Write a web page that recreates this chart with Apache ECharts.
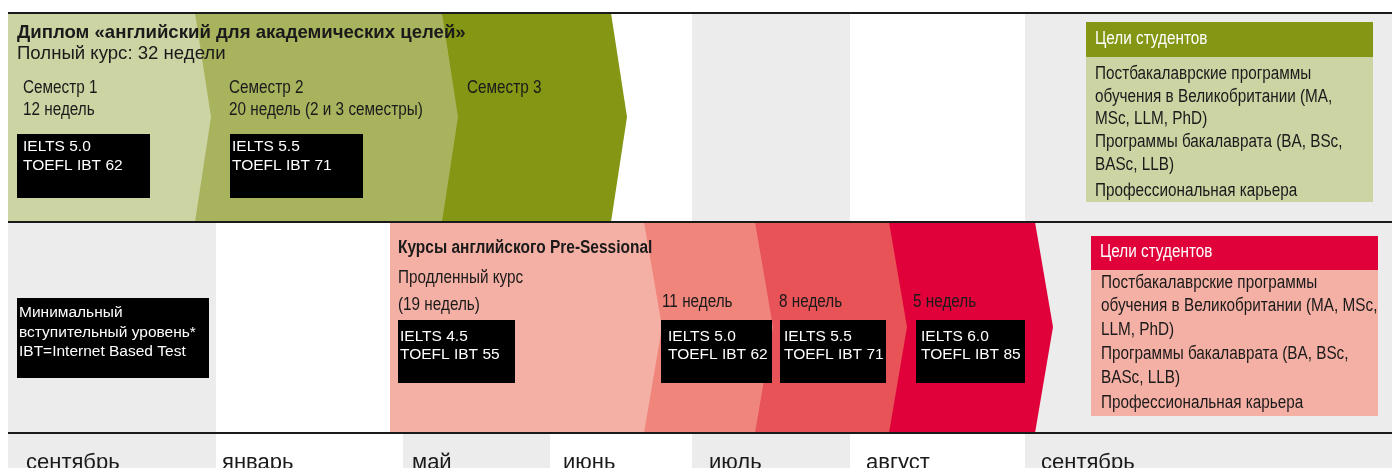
<!DOCTYPE html>
<html><head><meta charset="utf-8">
<script src="https://cdn.jsdelivr.net/npm/echarts@6/dist/echarts.min.js"></script>
<style>html,body{margin:0;padding:0;background:#fff}#c{width:1392px;height:468px}</style>
</head><body><div id="c"></div>
<script>
// ---------- DATA ----------
// timeline columns (x in timeline units)
const monthLabels = ['сентябрь','январь','май','июнь','июль','август','сентябрь'];
const monthStarts = [8, 216, 403, 550, 692, 850, 1025];
const monthEnds   = [216, 403, 550, 692, 850, 1025, 1392];
const monthShaded = [1, 0, 1, 0, 1, 0, 1];

// Diploma programme (top row)
const diplomaTitle = 'Диплом «английский для академических целей»';
const diplomaSubtitle = 'Полный курс: 32 недели';
const diplomaStart = 8;
const diplomaStageEnds = [195, 442, 611];
const diplomaStageNames = ['Семестр 1', 'Семестр 2', 'Семестр 3'];
const diplomaStageWeeks = ['12 недель', '20 недель (2 и 3 семестры)', ''];
const diplomaEntryIelts = ['IELTS 5.0', 'IELTS 5.5'];
const diplomaEntryToefl = ['TOEFL IBT 62', 'TOEFL IBT 71'];

// Pre-sessional courses (bottom row)
const preTitle = 'Курсы английского Pre-Sessional';
const preStart = 390;
const preStageEnds = [644, 755, 889, 1035];
const preStageWeeks = [['Продленный курс', '(19 недель)'], ['11 недель'], ['8 недель'], ['5 недель']];
const preEntryIelts = ['IELTS 4.5', 'IELTS 5.0', 'IELTS 5.5', 'IELTS 6.0'];
const preEntryToefl = ['TOEFL IBT 55', 'TOEFL IBT 62', 'TOEFL IBT 71', 'TOEFL IBT 85'];

const minLevelLines = ['Минимальный', 'вступительный уровень*', 'IBT=Internet Based Test'];

const goalsTitle = 'Цели студентов';
const goalsTop = ['Постбакалаврские программы', 'обучения в Великобритании (MA,', 'MSc, LLM, PhD)', 'Программы бакалаврата (BA, BSc,', 'BASc, LLB)', 'Профессиональная карьера'];
const goalsBottom = ['Постбакалаврские программы', 'обучения в Великобритании (MA, MSc,', 'LLM, PhD)', 'Программы бакалаврата (BA, BSc,', 'BASc, LLB)', 'Профессиональная карьера'];

// ---------- LAYOUT / STYLE ----------
const ROW_LINES = [13, 222, 433];
const TOP_ROW = {y0: 13, tipY: 117, y1: 222, tip: 16};
const BOT_ROW = {y0: 222, tipY: 327, y1: 433, tip: 18};
const GREY = '#ebeceb';
const diplomaColors = ['#cdd4a4', '#a9b35d', '#849614'];
const preColors = ['#f5b0a5', '#f0857b', '#e85357', '#e0003a'];
const INK = '#1a1a1a';
const FONT = '"Liberation Sans", Arial, sans-serif';

const monthLabelX = [26, 222, 412, 563, 709, 866, 1041];
const diplomaBoxX = [[17, 150, 23], [230, 363, 232]];
const preBoxX = [[398, 515, 400], [661, 772, 668], [780, 886, 784], [916, 1025, 921]];
const diplomaNameX = [23, 229, 467];
const preWeeksX = [398, 662, 779, 913];

const styles = {
  title:  {size: 18.6, weight: 'bold', sx: 1},
  sub:    {size: 18.6, weight: 'normal', sx: 1},
  narrow: {size: 18, weight: 'normal', sx: 0.85},
  narrowBold: {size: 18, weight: 'bold', sx: 0.86},
  box:    {size: 15.5, weight: 'normal', sx: 1},
  month:  {size: 22, weight: 'normal', sx: 1}
};

// rectangles: [x0, x1, y0, y1, fill]
const rects = [];
rects.push([1086, 1373, 22, 57, diplomaColors[2]]);
rects.push([1086, 1373, 57, 202, diplomaColors[0]]);
rects.push([1091, 1378, 236, 270, preColors[3]]);
rects.push([1091, 1378, 270, 416, preColors[0]]);
diplomaBoxX.forEach(b => rects.push([b[0], b[1], 134, 198, '#000']));
rects.push([17, 209, 298, 378, '#000']);
preBoxX.forEach(b => rects.push([b[0], b[1], 320, 383, '#000']));

// texts
const texts = [];
function T(t, x, y, st, fill) { texts.push({t, x, y, st, fill: fill || INK}); }
T(diplomaTitle, 17, 33, 'title');
T(diplomaSubtitle, 17, 54, 'sub');
diplomaStageNames.forEach((n, i) => {
  T(n, diplomaNameX[i], 88, 'narrow');
  if (diplomaStageWeeks[i]) T(diplomaStageWeeks[i], diplomaNameX[i], 110, 'narrow');
});
diplomaEntryIelts.forEach((s, i) => {
  T(s, diplomaBoxX[i][2], 147, 'box', '#fff');
  T(diplomaEntryToefl[i], diplomaBoxX[i][2], 166, 'box', '#fff');
});
T(goalsTitle, 1095, 39, 'narrow', '#fff');
const goalsTopY = [74, 97, 119, 142, 165, 191];
goalsTop.forEach((s, i) => T(s, 1095, goalsTopY[i], 'narrow'));

T(preTitle, 398, 248, 'narrowBold');
preStageWeeks.forEach((arr, i) => {
  if (arr.length === 2) { T(arr[0], preWeeksX[i], 278, 'narrow'); T(arr[1], preWeeksX[i], 305, 'narrow'); }
  else T(arr[0], preWeeksX[i], 302, 'narrow');
});
preEntryIelts.forEach((s, i) => {
  T(s, preBoxX[i][2], 337, 'box', '#fff');
  T(preEntryToefl[i], preBoxX[i][2], 355, 'box', '#fff');
});
const minY = [313, 333, 352];
minLevelLines.forEach((s, i) => T(s, 19, minY[i], 'box', '#fff'));
T(goalsTitle, 1100, 252, 'narrow', '#fff');
const goalsBotY = [283, 306, 330, 354, 378, 403];
goalsBottom.forEach((s, i) => T(s, 1101, goalsBotY[i], 'narrow'));
monthLabels.forEach((m, i) => T(m, monthLabelX[i], 463, 'month'));

// ---------- CHART ----------
const chart = echarts.init(document.getElementById('c'), null, {renderer: 'canvas'});

function rectEl(api, x0, x1, y0, y1, fill) {
  const a = api.coord([x0, y0]), b = api.coord([x1, y1]);
  return {type: 'rect', shape: {x: a[0], y: a[1], width: b[0] - a[0], height: b[1] - a[1]}, style: {fill}};
}
function chevron(api, start, end, row, fill) {
  const pts = [[start, row.y0], [end, row.y0], [end + row.tip, row.tipY], [end, row.y1], [start, row.y1]];
  return {type: 'polygon', shape: {points: pts.map(p => api.coord(p))}, style: {fill}};
}

const option = {
  animation: false,
  grid: {left: 0, right: 0, top: 0, bottom: 0},
  xAxis: {type: 'value', min: 0, max: 1392, show: false},
  yAxis: {type: 'value', min: 0, max: 468, inverse: true, show: false},
  series: [
    {
      type: 'custom', silent: true,
      data: monthStarts.map((s, i) => [s, monthEnds[i], monthShaded[i]]),
      renderItem: (p, api) => rectEl(api, api.value(0), api.value(1), ROW_LINES[0], 468, api.value(2) ? GREY : '#ffffff')
    },
    {
      type: 'custom', silent: true,
      data: diplomaStageEnds.map((e, i) => [diplomaStart, e, i]).reverse(),
      renderItem: (p, api) => chevron(api, api.value(0), api.value(1), TOP_ROW, diplomaColors[api.value(2)])
    },
    {
      type: 'custom', silent: true,
      data: preStageEnds.map((e, i) => [preStart, e, i]).reverse(),
      renderItem: (p, api) => chevron(api, api.value(0), api.value(1), BOT_ROW, preColors[api.value(2)])
    },
    {
      type: 'custom', silent: true,
      data: ROW_LINES.map(y => [8, 1392, y]),
      renderItem: (p, api) => {
        const a = api.coord([api.value(0), api.value(2)]), b = api.coord([api.value(1), api.value(2)]);
        return {type: 'line', shape: {x1: a[0], y1: a[1], x2: b[0], y2: b[1]}, style: {stroke: INK, lineWidth: 2}};
      }
    },
    {
      type: 'custom', silent: true,
      data: rects.map((r, i) => [r[0], r[2], i]),
      renderItem: (p, api) => { const r = rects[p.dataIndex]; return rectEl(api, r[0], r[1], r[2], r[3], r[4]); }
    },
    {
      type: 'custom', silent: true,
      data: texts.map((t, i) => [t.x, t.y, i]),
      renderItem: (p, api) => {
        const d = texts[p.dataIndex], s = styles[d.st];
        const c = api.coord([d.x, d.y]);
        return {type: 'text', x: c[0], y: c[1], scaleX: s.sx, scaleY: 1,
          style: {text: d.t, fill: d.fill, fontSize: s.size, fontWeight: s.weight, fontFamily: FONT, align: 'left', verticalAlign: 'middle'}};
      }
    }
  ]
};
chart.setOption(option);
</script></body></html>
